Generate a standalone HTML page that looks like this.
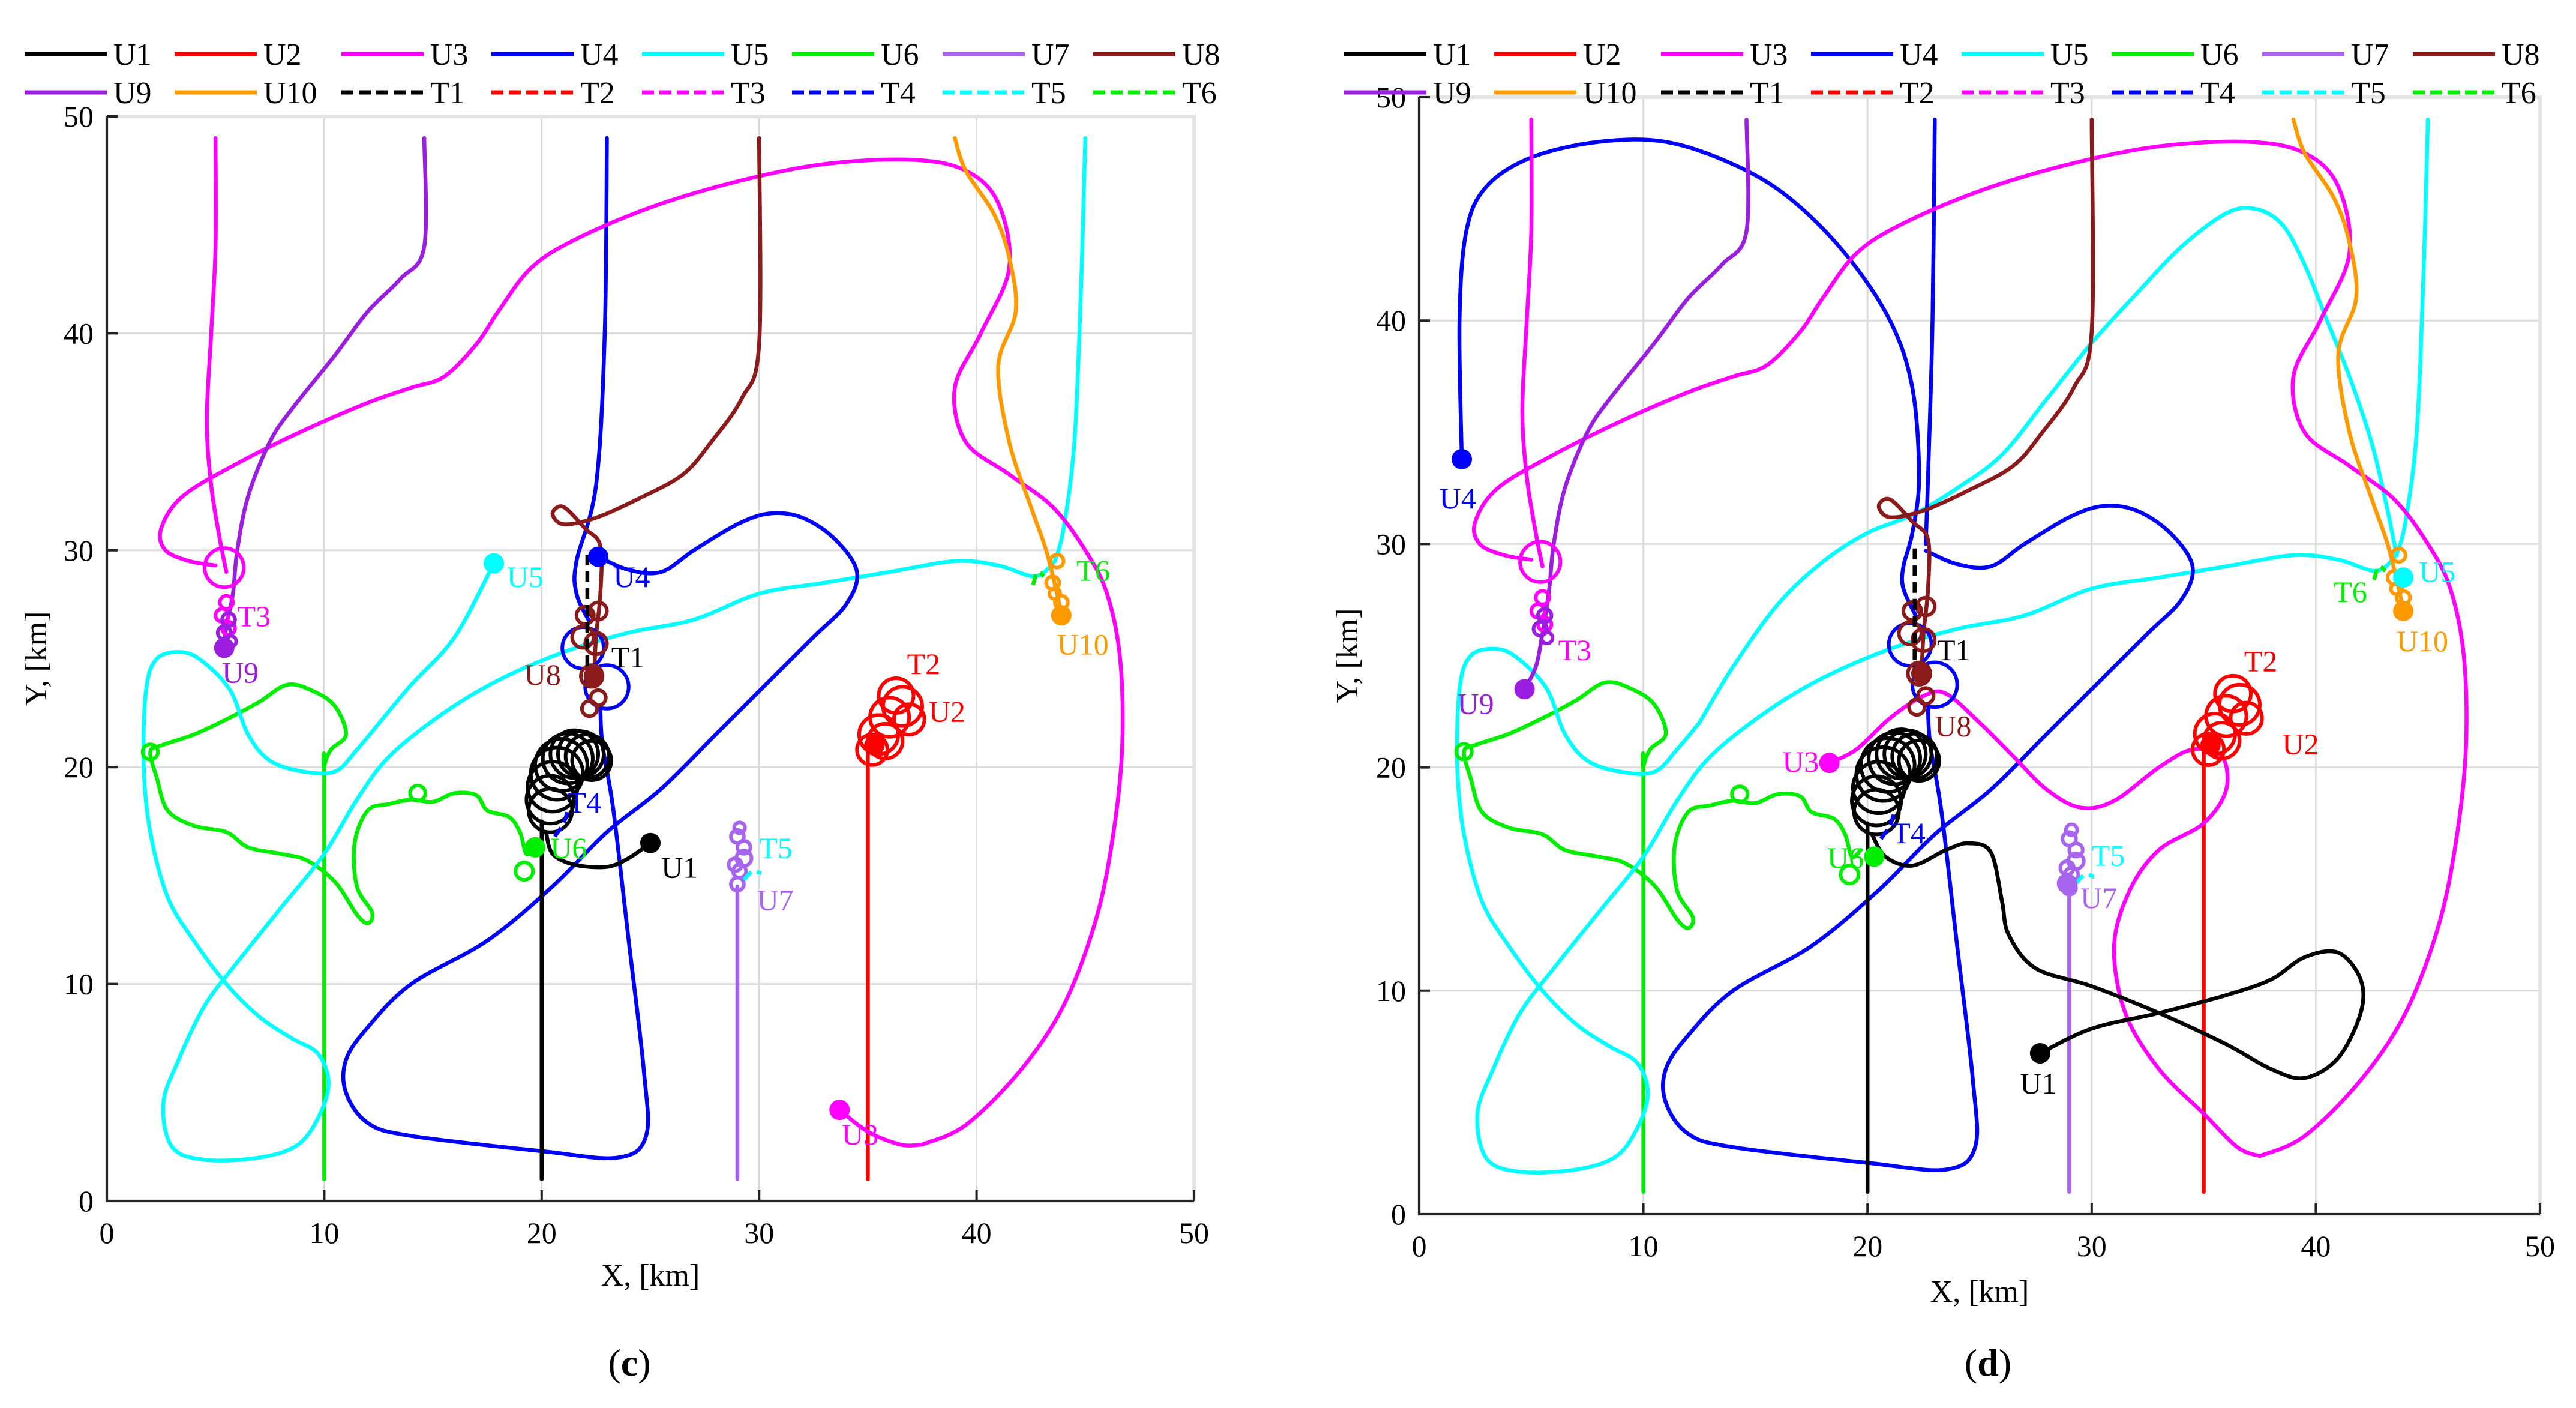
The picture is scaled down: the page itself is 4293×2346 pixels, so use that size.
<!DOCTYPE html>
<html><head><meta charset="utf-8"><style>
html,body{margin:0;padding:0;background:#fff;}
svg{display:block;font-family:"Liberation Serif",serif;}
</style></head><body>
<svg id="chart" xmlns="http://www.w3.org/2000/svg" width="4293" height="2346" viewBox="0 0 4293 2346"></svg>
<script>
// ---------- data (km) ----------
const xTicks=[0,10,20,30,40,50];
const yTicks=[0,10,20,30,40,50];
const seriesNames=["U1","U2","U3","U4","U5","U6","U7","U8","U9","U10","T1","T2","T3","T4","T5","T6"];
const seriesColors=["#000","#f00","#f0f","#00f","#0ff","#0e0","#a764ef","#8b1a1a","#9b1ee0","#ff9900","#000","#f00","#f0f","#00f","#0ff","#0e0"];
const U2line=[[35,1],[35,21]];
const U2loops=[[35.2,20.8,0.7],[35.5,21.5,0.9],[36,22.3,0.9],[36.3,23.3,0.8],[36.6,22.8,0.9],[35.8,21.2,0.8],[36.9,22.2,0.7]];
const U7line=[[29,1],[29,14.5]];
const U7loops=[[29,14.6,0.3],[29.1,15.2,0.3],[29.3,15.8,0.35],[29.3,16.3,0.3],[29,16.8,0.3],[29.1,17.2,0.25],[28.9,15.5,0.3]];
const U1line=[[20,1],[20,17.5]];
const U1loops=[[20.4,18.0,1.0],[20.4,18.5,1.1],[20.5,19.1,1.15],[20.7,19.7,1.2],[20.9,20.1,1.2],[21.2,20.4,1.15],[21.5,20.6,1.1],[21.8,20.6,1.05],[22.1,20.5,1.0],[22.3,20.3,0.9]];
const U1tailC=[[20.2,17],[20.5,16],[21.5,15.5],[23,15.4],[24,15.8],[25,16.5]];
const U1tailD=[[20.2,17],[20.8,16],[22,15.6],[23.5,16.3],[24.5,16.6],[25.5,16.2],[26,14],[26.3,12.5],[27.5,11],[30,10.2],[33,9],[36,7.6],[38,6.5],[39.5,6.1],[41,7],[42,9],[42,10.5],[41,11.7],[39.5,11.5],[38,10.5],[36,9.8],[33,9],[30,8.3],[27.7,7.2]];
const U8line=[[30,49],[30,39.5],[29.2,37],[27.8,35],[26.5,33.5],[24.5,32.4],[22.5,31.5],[21,31.2],[20.5,31.7],[21,32],[22,31],[22.7,30.2],[22.7,28],[22.5,26],[22.4,24]];
const U8loops=[[22,27,0.4],[22.6,27.2,0.4],[21.9,26,0.5],[22.5,25.7,0.5],[22.3,24.2,0.5],[22.6,23.2,0.35],[22.2,22.7,0.35]];
const T1line=[[22.1,29.8],[22.1,24]];
const U4topC=[[23,49],[22.9,40],[22.5,33],[21.6,29.5],[21.6,28],[22.2,26.7]];
const U4topD=[[23,49],[22.9,40],[22.7,33],[22.6,30]];
const U4startD=[[1.9,33.8],[1.8,40],[2.1,44],[3,46],[5,47.3],[8,48],[11,48],[14,47],[16.5,45.5],[19,43],[21,40],[22,37],[22.3,33],[22,30.5],[21.6,29],[21.6,28],[22.2,26.7]];
const U4poly=[[22.6,29.7],[24,29.1],[25.5,29],[27,30],[29,31.2],[30.5,31.7],[32,31.5],[33.5,30.5],[34.5,29],[34,27.5],[32.5,26],[30.5,24],[28,21.5],[25.5,19],[23,17],[20.5,14.5],[17.5,12],[14,10],[12,8],[11,6.5],[11,5],[12,3.6],[14,3],[20,2.3],[23.5,2],[24.8,3],[24.7,6],[24,12],[23.3,18],[22.8,21],[22.7,22.6]];
const U4loops=[[21.9,25.5,0.95],[23.0,23.7,1.0]];
const U3loop=[[37.5,2.6],[39.5,3.5],[42,6],[44,9],[45.5,13],[46.3,17],[46.7,21],[46.6,25],[46,28],[45,30],[43.5,32],[41.5,33.5],[39.5,35],[39,37.5],[40.2,40],[41.5,43],[41,46],[39.5,47.5],[37,48],[33,47.8],[29,47],[25,45.8],[21.5,44.3],[19.5,43],[18,41],[17,39.5],[15.5,38],[14,37.5],[12,36.8],[9,35.5],[6,34],[3.5,32.5],[2.5,31],[2.7,30],[3.8,29.5],[5,29.3]];
const U3startC=[[33.7,4.2],[35,3.2],[36.5,2.6],[37.5,2.6]];
const U3startD=[[18.3,20.2],[19.5,20.8],[21,22.2],[22.5,23.2],[23.5,23.3],[25,22],[26.5,20.5],[28,19],[29.5,18.2],[31,18.5],[33,20],[34.5,20.8],[35.8,20.5],[36,19],[35,17.5],[33,16.3],[31.7,14.5],[31,12],[31.5,9],[33,6.5],[35,4.5],[36.5,3],[37.5,2.6]];
const U3vert=[[5,49],[5,44],[4.8,40],[4.6,36],[4.8,33],[5.2,30.5],[5.5,29]];
const U3loops=[[5.4,29.2,0.9],[5.5,27.6,0.3],[5.3,27,0.3],[5.6,26.4,0.3]];
const U9line=[[14.6,49],[14.6,44],[13.5,42.5],[12,41],[10.5,39],[8.5,36.5],[7.5,35],[6.5,32.5],[6,30],[5.8,28],[5.5,26.5],[5.4,25.5]];
const U9lineD=[[14.6,49],[14.6,44],[13.5,42.5],[12,41],[10.5,39],[8.5,36.5],[7.5,35],[6.5,32.5],[6,30],[5.8,28],[5.5,26],[5.2,24.5],[4.7,23.5]];
const U9loops=[[5.6,26.8,0.3],[5.4,26.2,0.3],[5.7,25.8,0.25]];
const U10line=[[39,49],[39.5,47.5],[40.8,45.5],[41.5,43.5],[41.8,41],[41,38.5],[41.5,35],[42.5,32],[43.2,30],[43.7,28],[43.9,27]];
const U10loops=[[43.7,29.5,0.3],[43.5,28.5,0.3],[43.9,27.6,0.3],[43.6,28,0.25]];
const U5top=[[45,49],[44.8,42],[44.5,35],[44,31],[43.6,29.5]];
const U5main=[[43.6,29.5],[42.7,28.8],[41,29.3],[39,29.5],[36,29],[33,28.5],[30,28],[27,26.8],[24,26.2],[21,25.3],[18,24],[15.5,22.5],[13,20.5],[11.5,18.5],[10,16],[8,13.5],[6,11],[4.5,9],[3.3,6.5],[2.6,4.5],[3,2.5],[4.5,1.9],[7,2],[8.8,2.6],[9.8,4],[10.2,5.5],[9.7,6.8],[8.5,7.5],[7,8.5],[5.5,10],[4,12],[2.8,14],[2,17],[1.7,20],[1.8,23.5],[2.3,25],[3.5,25.3],[4.5,24.8],[5.7,23.5],[6.5,21.5],[7.5,20.3],[9,19.8],[10.5,19.8],[11.5,20.8],[12.5,22]];
const U5endC=[[12.5,22],[14,23.8],[16,26],[17.8,29.4]];
const U5endD=[[12.5,22],[14,24.5],[16,27.3],[18,29.2],[20,30.5],[22,31.3],[24,32.5],[26,34],[28,36.5],[30,39],[32,41.2],[34,43.3],[36,44.8],[37.3,45],[38.5,44.3],[39.5,42.5],[40.5,40],[41.5,37.5],[42.5,34.5],[43.2,31.5],[43.6,29.5]];
const U6line=[[10,1],[10,19],[10,20],[10.3,20.8],[11,21.5],[10.5,22.8],[9.5,23.5],[8.3,23.8],[7,23],[5.5,22.2],[4,21.5],[2.5,21],[2,20.7],[2.3,19.5],[2.8,18],[4,17.3],[5.5,17],[6.5,16.3],[8,16],[9.2,15.7],[10.5,14.7],[11.5,13.2],[12,12.8],[12.2,13.3],[11.5,14.5],[11.4,16.5],[12,18],[13,18.3],[14,18.5],[15,18.4],[16,18.8],[17,18.7],[17.5,18],[18.5,17.7],[19,17],[19.3,16],[19.7,16.3]];
const U6loops=[[2,20.7,0.35],[14.3,18.8,0.35],[19.2,15.2,0.4]];
const T5line=[[29.3,14.8],[29.7,15.2],[30.1,15.1]];
const T6line=[[42.6,28.4],[42.8,29],[43.1,28.8]];
const T4line=[[20.6,16.8],[21,17.4],[21.2,18]];

// ---------- panels ----------
const panels=[
 {id:"c",x0:178,x1:1990,y0:2001,y1:194,legOff:0,cap:"c",capX:1049,xlabY:2125,ylabX:60,
  lines:[["U2",U2line],["U7",U7line],["U6",U6line],["U5",U5top],["U5",U5main],["U5",U5endC],["U4",U4topC],["U4",U4poly],["U3",U3startC],["U3",U3loop],["U3",U3vert],["U9",U9line],["U10",U10line],["U8",U8line],["U1",U1line],["U1",U1tailC]],
  loops:[["U2",U2loops],["U7",U7loops],["U6",U6loops],["U4",U4loops],["U3",U3loops],["U9",U9loops],["U10",U10loops],["U8",U8loops],["U1",U1loops]],
  dashed:[["T1",T1line],["T5",T5line],["T6",T6line],["T4",T4line]],
  dots:[["U1",25,16.5],["U3",33.7,4.2],["U4",22.6,29.7],["U5",17.8,29.4],["U6",19.7,16.3],["U8",22.4,24.2],["U9",5.4,25.5],["U10",43.9,27],["U2",35.3,21]],
  labels:[["U1",25.5,14.9],["U2",37.8,22.1],["U3",33.8,2.6],["U4",23.3,28.3],["U5",18.4,28.3],["U6",20.4,15.8],["U7",29.9,13.4],["U8",19.2,23.8],["U9",5.3,23.9],["U10",43.7,25.2],["T1",23.2,24.6],["T2",36.8,24.3],["T3",6.0,26.5],["T4",21.2,17.9],["T5",30,15.8],["T6",44.6,28.6]]},
 {id:"d",x0:2365,x1:4233,y0:2023,y1:162,legOff:2199,cap:"d",capX:3313,xlabY:2152,ylabX:2245,
  lines:[["U2",U2line],["U7",U7line],["U6",U6line],["U5",U5top],["U5",U5main],["U5",U5endD],["U4",U4topD],["U4",U4startD],["U4",U4poly],["U3",U3startD],["U3",U3loop],["U3",U3vert],["U9",U9lineD],["U10",U10line],["U8",U8line],["U1",U1line],["U1",U1tailD]],
  loops:[["U2",U2loops],["U7",U7loops],["U6",U6loops],["U4",U4loops],["U3",U3loops],["U9",U9loops],["U10",U10loops],["U8",U8loops],["U1",U1loops]],
  dashed:[["T1",T1line],["T5",T5line],["T6",T6line],["T4",T4line]],
  dots:[["U1",27.7,7.2],["U3",18.3,20.2],["U4",1.9,33.8],["U5",43.9,28.5],["U6",20.3,16],["U8",22.4,24.2],["U9",4.7,23.5],["U10",43.9,27],["U2",35.3,21],["U7",28.9,14.8]],
  labels:[["U1",26.8,5.4],["U2",38.5,20.6],["U3",16.2,19.8],["U4",0.9,31.6],["U5",44.6,28.3],["U6",18.2,15.5],["U7",29.5,13.7],["U8",23,21.4],["U9",1.7,22.4],["U10",43.6,25.2],["T1",23.1,24.8],["T2",36.8,24.3],["T3",6.2,24.8],["T4",21.1,16.6],["T5",30,15.6],["T6",40.8,27.4]]}
];

const NS="http://www.w3.org/2000/svg";
const svg=document.getElementById("chart");
function mk(tag,attrs,parent){const e=document.createElementNS(NS,tag);for(const k in attrs)e.setAttribute(k,attrs[k]);(parent||svg).appendChild(e);return e;}
function col(n){return seriesColors[seriesNames.indexOf(n)];}

panels.forEach(p=>{
  const sx=v=>p.x0+(v-0)/(50-0)*(p.x1-p.x0);
  const sy=v=>p.y0+(v-0)/(50-0)*(p.y1-p.y0);
  const kx=(p.x1-p.x0)/50;
  const g=mk("g",{});
  
  
  xTicks.forEach(t=>{const l=mk("line",{x1:sx(t),x2:sx(t),y1:p.y0,y2:p.y1,stroke:"#dcdcdc","stroke-width":3},g);
    });
  yTicks.forEach(t=>{const l=mk("line",{x1:p.x0,x2:p.x1,y1:sy(t),y2:sy(t),stroke:"#dcdcdc","stroke-width":3},g);
    });
  const box=mk("rect",{x:p.x0,y:p.y1,width:p.x1-p.x0,height:p.y0-p.y1,fill:"none",stroke:"#e4e4e4","stroke-width":6},g);
  
  const ax=mk("path",{d:`M${p.x0},${p.y1}V${p.y0}H${p.x1}`,fill:"none",stroke:"#222","stroke-width":4},g);
  
  xTicks.forEach(t=>{mk("line",{x1:sx(t),x2:sx(t),y1:p.y0,y2:p.y0-18,stroke:"#222","stroke-width":4},g);
    const tx=mk("text",{x:sx(t),y:p.y0+70,"font-size":50,"text-anchor":"middle"},g);tx.textContent=t;
    });
  yTicks.forEach(t=>{mk("line",{x1:p.x0,x2:p.x0+18,y1:sy(t),y2:sy(t),stroke:"#222","stroke-width":4},g);
    const tx=mk("text",{x:p.x0-22,y:sy(t)+17,"font-size":50,"text-anchor":"end"},g);tx.textContent=t;
    });
  const xl=mk("text",{x:(p.x0+p.x1)/2,y:p.xlabY+17,"font-size":52,"text-anchor":"middle"},g);xl.textContent="X, [km]";
  
  const yc=(p.y0+p.y1)/2;
  const yl=mk("text",{x:p.ylabX,y:yc,"font-size":52,"text-anchor":"middle",transform:`rotate(-90 ${p.ylabX} ${yc}) translate(0 17)`},g);yl.textContent="Y, [km]";
  
  const cap=mk("text",{x:p.capX,y:2292,"font-size":64,"text-anchor":"middle"},g);
  
  cap.appendChild(document.createTextNode("("));
  const b=mk("tspan",{"font-weight":"bold"},cap);b.textContent=p.cap;
  cap.appendChild(document.createTextNode(")"));
  const path=pts=>{
    const P=pts.map(q=>[sx(q[0]),sy(q[1])]);
    let d="M"+P[0][0].toFixed(1)+","+P[0][1].toFixed(1);
    for(let i=0;i<P.length-1;i++){
      const p0=P[Math.max(0,i-1)],p1=P[i],p2=P[i+1],p3=P[Math.min(P.length-1,i+2)];
      const c1=[p1[0]+(p2[0]-p0[0])/6,p1[1]+(p2[1]-p0[1])/6];
      const c2=[p2[0]-(p3[0]-p1[0])/6,p2[1]-(p3[1]-p1[1])/6];
      d+="C"+c1[0].toFixed(1)+","+c1[1].toFixed(1)+" "+c2[0].toFixed(1)+","+c2[1].toFixed(1)+" "+p2[0].toFixed(1)+","+p2[1].toFixed(1);
    }
    return d;};
  p.lines.forEach(([n,pts])=>{const e=mk("path",{d:path(pts),fill:"none",stroke:col(n),"stroke-width":6.5,"stroke-linejoin":"round","stroke-linecap":"round"},g);
    });
  p.loops.forEach(([n,arr])=>arr.forEach(c=>{const e=mk("circle",{cx:sx(c[0]),cy:sy(c[1]),r:c[2]*kx,fill:"none",stroke:col(n),"stroke-width":6},g);
    }));
  p.dashed.forEach(([n,pts])=>{const e=mk("path",{d:path(pts),fill:"none",stroke:col(n),"stroke-width":6.5,"stroke-dasharray":"18 10"},g);
    });
  p.dots.forEach(([n,x,y])=>{const e=mk("circle",{cx:sx(x),cy:sy(y),r:17,fill:col(n)},g);
    });
  p.labels.forEach(([n,x,y])=>{const e=mk("text",{x:sx(x),y:sy(y),"font-size":50,fill:col(n)},g);e.textContent=n;
    });
  const colX=[41,291,569,819,1070,1320,1571,1822];
  seriesNames.forEach((n,i)=>{
    const r=Math.floor(i/8),c=i%8;const x=colX[c]+p.legOff,y=r?154:90;
    const lg=mk("g",{},g);
    
    
    mk("line",{x1:x,x2:x+137,y1:y,y2:y,stroke:seriesColors[i],"stroke-width":7,"stroke-dasharray":n[0]==="T"?"20 9":"none"},lg);
    const t=mk("text",{x:x+148,y:y+18,"font-size":52},lg);t.textContent=n;
  });
});
</script>
</body></html>
